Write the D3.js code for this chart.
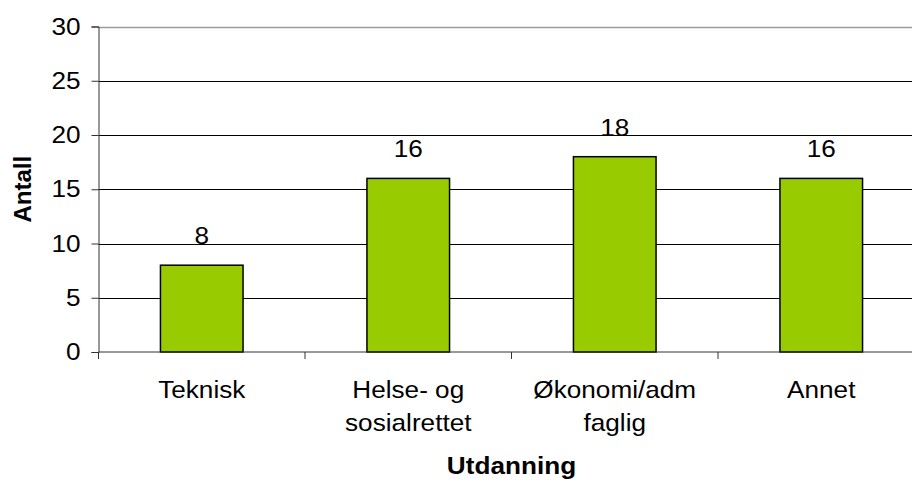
<!DOCTYPE html>
<html>
<head>
<meta charset="utf-8">
<script src="https://cdn.jsdelivr.net/npm/d3@7"></script>
<style>
body{margin:0;background:#fff;}
text{font-family:Arial,"Liberation Sans",sans-serif;fill:#000;}
</style>
</head>
<body>
<script>
// data
var kategorier = [["Teknisk"], ["Helse- og", "sosialrettet"], ["Økonomi/adm", "faglig"], ["Annet"]];
var antall = [8, 16, 18, 16];
var yTicks = [0, 5, 10, 15, 20, 25, 30];

var W = 912, H = 483;
var m = {top: 26.5, left: 98.5, bottom: 131, right: -12.5};
var fs = "24px";
var sx = 1.09; // text is a little wider than it is tall in the original

var svg = d3.select("body").append("svg").attr("width", W).attr("height", H);

var x = d3.scaleBand()
	.domain(d3.range(kategorier.length))
	.range([m.left, W - m.right])
	.paddingInner(0.6)
	.paddingOuter(0.3);
var y = d3.scaleLinear().domain([0, 30]).range([H - m.bottom, m.top]);

function pos(px, py) {
	return "translate(" + px + "," + py + ") scale(" + sx + ",1)";
}

// gridlines
svg.append("g").selectAll("line")
	.data(yTicks.filter(function (d) { return d > 0; }))
	.enter().append("line")
	.attr("x1", m.left).attr("x2", W)
	.attr("y1", function (d) { return Math.round(y(d)) + 0.5; })
	.attr("y2", function (d) { return Math.round(y(d)) + 0.5; })
	.attr("stroke", function (d) { return d == 30 ? "#9a9a9a" : "#000"; })
	.attr("stroke-width", function (d) { return d == 30 ? 1.5 : 1; });

// bars
svg.append("g").selectAll("rect")
	.data(antall)
	.enter().append("rect")
	.attr("x", function (d, i) { return x(i); })
	.attr("width", x.bandwidth())
	.attr("y", function (d) { return y(d); })
	.attr("height", function (d) { return y(0) - y(d); })
	.attr("fill", "#99cc00")
	.attr("stroke", "#000")
	.attr("stroke-width", 1.5);

// value labels
svg.append("g").selectAll("text")
	.data(antall)
	.enter().append("text")
	.attr("transform", function (d, i) { return pos(x(i) + x.bandwidth() / 2, y(d) - 21); })
	.attr("text-anchor", "middle")
	.style("font-size", fs)
	.text(function (d) { return d; });

// y axis
var yAxis = d3.axisLeft(y).tickValues(yTicks).tickSize(7).tickPadding(11);
var gy = svg.append("g").attr("transform", "translate(" + m.left + ",0)").call(yAxis);
gy.attr("font-family", null).attr("font-size", null);
gy.select(".domain").attr("stroke", "#333");
gy.selectAll(".tick line").attr("stroke", "#333");
gy.selectAll("text").style("font-size", fs)
	.attr("x", 0)
	.attr("transform", pos(-18, 0));

// x axis
var step = x.step();
var gx = svg.append("g");
gx.append("line")
	.attr("x1", m.left).attr("x2", W)
	.attr("y1", y(0)).attr("y2", y(0))
	.attr("stroke", "#333");
gx.selectAll(".xt")
	.data(d3.range(kategorier.length + 1))
	.enter().append("line")
	.attr("x1", function (i) { return m.left + i * step; })
	.attr("x2", function (i) { return m.left + i * step; })
	.attr("y1", y(0)).attr("y2", y(0) + 7)
	.attr("stroke", "#333");
gx.selectAll(".kat")
	.data(kategorier)
	.enter().append("text")
	.attr("text-anchor", "middle")
	.attr("transform", function (d, i) { return pos(x(i) + x.bandwidth() / 2, y(0) + 46); })
	.style("font-size", fs)
	.each(function (d) {
		var t = d3.select(this);
		d.forEach(function (linje, j) {
			t.append("tspan")
				.attr("x", 0)
				.attr("y", j * 33)
				.text(linje);
		});
	});

// axis titles
svg.append("text")
	.attr("transform", pos(m.left + 2 * step, 474))
	.attr("text-anchor", "middle")
	.style("font-size", fs)
	.style("font-weight", "bold")
	.text("Utdanning");

svg.append("text")
	.attr("transform", "translate(31," + y(15) + ") rotate(-90)")
	.attr("text-anchor", "middle")
	.style("font-size", fs)
	.style("font-weight", "bold")
	.text("Antall");
</script>
</body>
</html>
